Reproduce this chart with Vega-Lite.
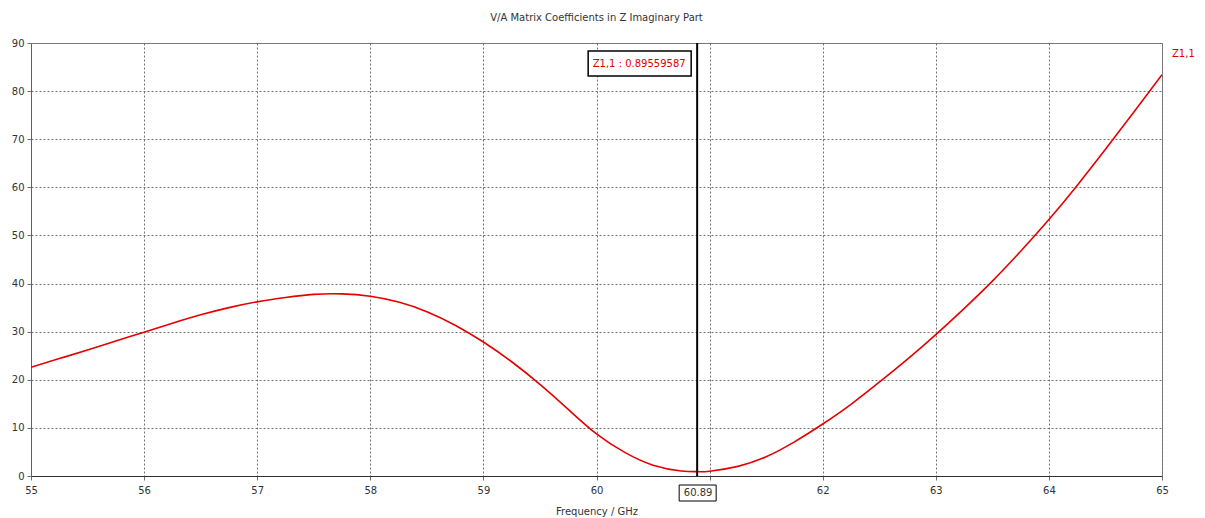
{
  "$schema": "https://vega.github.io/schema/vega-lite/v6.json",
  "width": 1131,
  "height": 433,
  "autosize": {"type": "none"},
  "padding": {"left": 31, "top": 43, "right": 43, "bottom": 42},
  "background": "white",
  "config": {
    "font": "DejaVu Sans",
    "view": {"stroke": "#808080", "strokeWidth": 1},
    "axis": {
      "labelFont": "DejaVu Sans", "labelFontSize": 10, "labelColor": "#333333",
      "titleFont": "DejaVu Sans", "titleFontSize": 10, "titleColor": "#333333", "titleFontWeight": "normal",
      "grid": true, "gridColor": "#707070", "gridDash": [2, 2], "gridOpacity": 1,
      "tickColor": "#707070", "tickSize": 4, "domainColor": "#606060", "labelFlush": false
    }
  },
  "title": {
    "text": "V/A Matrix Coefficients in Z Imaginary Part",
    "font": "DejaVu Sans", "fontSize": 10, "fontWeight": "normal", "color": "#333333",
    "anchor": "middle", "offset": 15
  },
  "datasets": {
    "curve": [
      {"f": 55, "z": 22.6}, {"f": 55.25, "z": 24.4}, {"f": 55.5, "z": 26.2}, {"f": 55.75, "z": 28.05},
      {"f": 56, "z": 29.9}, {"f": 56.25, "z": 31.75}, {"f": 56.5, "z": 33.5}, {"f": 56.75, "z": 35.0},
      {"f": 57, "z": 36.2}, {"f": 57.25, "z": 37.1}, {"f": 57.5, "z": 37.75}, {"f": 57.75, "z": 37.85},
      {"f": 58, "z": 37.35}, {"f": 58.25, "z": 36.15}, {"f": 58.5, "z": 34.15}, {"f": 58.75, "z": 31.35},
      {"f": 59, "z": 27.85}, {"f": 59.25, "z": 23.75}, {"f": 59.5, "z": 19.05}, {"f": 59.75, "z": 13.85},
      {"f": 60, "z": 8.75}, {"f": 60.25, "z": 4.9}, {"f": 60.5, "z": 2.25}, {"f": 60.75, "z": 1.05},
      {"f": 60.89, "z": 0.9}, {"f": 61, "z": 1.0}, {"f": 61.25, "z": 2.0}, {"f": 61.5, "z": 4.0},
      {"f": 61.75, "z": 7.1}, {"f": 62, "z": 10.8}, {"f": 62.25, "z": 14.9}, {"f": 62.5, "z": 19.5},
      {"f": 62.75, "z": 24.3}, {"f": 63, "z": 29.4}, {"f": 63.25, "z": 34.8}, {"f": 63.5, "z": 40.5},
      {"f": 63.75, "z": 46.7}, {"f": 64, "z": 53.3}, {"f": 64.25, "z": 60.4}, {"f": 64.5, "z": 67.9},
      {"f": 64.75, "z": 75.6}, {"f": 65, "z": 83.4}
    ],
    "marker": [
      {"f": 60.89, "top": 90, "bottom": 0, "label": "Z1,1 : 0.89559587", "xlabel": "60.89"}
    ],
    "legend": [
      {"f": 65, "z": 90, "name": "Z1,1"}
    ]
  },
  "layer": [
    {
      "data": {"name": "curve"},
      "mark": {"type": "line", "color": "#e60000", "strokeWidth": 1.6, "interpolate": "natural", "clip": true},
      "encoding": {
        "x": {
          "field": "f", "type": "quantitative",
          "scale": {"domain": [55, 65], "nice": false, "zero": false},
          "axis": {
            "title": "Frequency / GHz", "values": [55, 56, 57, 58, 59, 60, 61, 62, 63, 64, 65],
            "format": "d",
            "labelExpr": "datum.value == 61 ? '' : datum.label",
            "domainColor": "#303030", "titlePadding": 11, "labelPadding": 5
          }
        },
        "y": {
          "field": "z", "type": "quantitative",
          "scale": {"domain": [0, 90], "nice": false},
          "axis": {"title": null, "values": [0, 10, 20, 30, 40, 50, 60, 70, 80, 90], "labelPadding": 3}
        }
      }
    },
    {
      "data": {"name": "marker"},
      "mark": {"type": "rule", "color": "#000000", "strokeWidth": 2},
      "encoding": {
        "x": {"field": "f", "type": "quantitative"},
        "y": {"field": "top", "type": "quantitative"},
        "y2": {"field": "bottom"}
      }
    },
    {
      "data": {"name": "marker"},
      "mark": {"type": "point", "shape": "M-2.18,0.16H-0.12V0.66H-2.18Z", "size": 10000, "filled": true, "fill": "white", "stroke": "#000000", "strokeWidth": 1.5, "opacity": 1},
      "encoding": {
        "x": {"field": "f", "type": "quantitative"},
        "y": {"field": "top", "type": "quantitative"}
      }
    },
    {
      "data": {"name": "marker"},
      "mark": {"type": "text", "color": "#e00000", "font": "DejaVu Sans", "fontSize": 10, "align": "center", "baseline": "middle", "dx": -58, "dy": 21},
      "encoding": {
        "x": {"field": "f", "type": "quantitative"},
        "y": {"field": "top", "type": "quantitative"},
        "text": {"field": "label"}
      }
    },
    {
      "data": {"name": "marker"},
      "mark": {"type": "point", "shape": "M-0.36,0.18H0.38V0.5H-0.36Z", "size": 10000, "filled": true, "fill": "white", "stroke": "#000000", "strokeWidth": 1, "opacity": 1, "clip": false},
      "encoding": {
        "x": {"field": "f", "type": "quantitative"},
        "y": {"field": "bottom", "type": "quantitative"}
      }
    },
    {
      "data": {"name": "marker"},
      "mark": {"type": "text", "color": "#333333", "font": "DejaVu Sans", "fontSize": 10, "align": "center", "baseline": "middle", "dx": 1, "dy": 17},
      "encoding": {
        "x": {"field": "f", "type": "quantitative"},
        "y": {"field": "bottom", "type": "quantitative"},
        "text": {"field": "xlabel"}
      }
    },
    {
      "data": {"name": "legend"},
      "mark": {"type": "text", "color": "#e00000", "font": "DejaVu Sans", "fontSize": 10, "align": "left", "baseline": "middle", "dx": 10, "dy": 11},
      "encoding": {
        "x": {"field": "f", "type": "quantitative"},
        "y": {"field": "z", "type": "quantitative"},
        "text": {"field": "name"}
      }
    }
  ]
}
